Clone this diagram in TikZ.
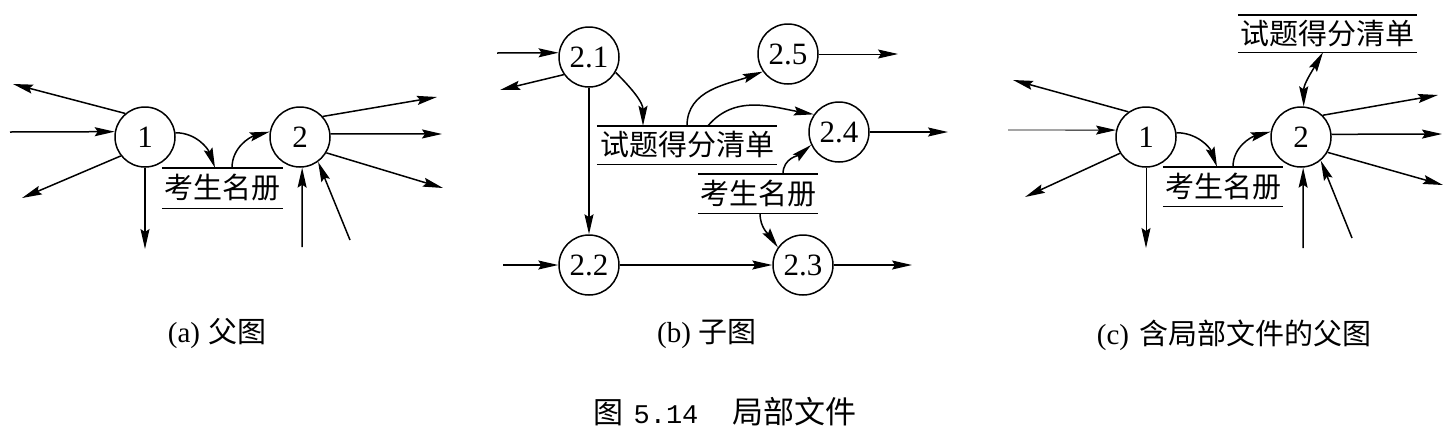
\documentclass[tikz,border=0pt]{standalone}
\usepackage{fontspec}
\setmainfont{Liberation Serif}
\newfontfamily\cjk{Noto Sans CJK SC}
\newfontfamily\monof{Liberation Mono}
\usetikzlibrary{arrows.meta}
\tikzset{
  proc/.style={circle, draw, line width=1.5pt, minimum size=60pt, inner sep=0pt, font=\fontsize{31}{34}\selectfont},
  store/.style={inner sep=0pt, font=\fontsize{29}{34}\selectfont\cjk},
  tipx/.tip={Stealth[length=20pt,width=9pt,inset=3pt]},
  flow/.style={line width=1.5pt, -tipx},
  thinflow/.style={line width=0.9pt, -tipx},
  dflow/.style={line width=1.5pt, tipx-tipx},
  bar/.style={line width=1.4pt},
  caption/.style={font=\fontsize{29}{34}\selectfont}
}
\begin{document}
\begin{tikzpicture}[x=1pt,y=1pt]
\fill[white] (0,0) rectangle (1454,-432);
\useasboundingbox (0,0) rectangle (1454,-432);

% ---------------- (a) ----------------
\node[proc] (n1) at (145,-137) {1};
\node[proc] (n2) at (300,-137) {2};
\node[store, minimum width=121pt, minimum height=40pt] (sa) at (222.5,-188) {考生名册};
\draw[bar] (sa.north west) -- (sa.north east) (sa.south west) -- (sa.south east);
\coordinate (a1) at (13,-84);
\coordinate (a2) at (10,-132);
\coordinate (a3) at (22,-198);
\coordinate (a4) at (145,-249);
\coordinate (a5) at (437,-97);
\coordinate (a6) at (442,-134);
\coordinate (a7) at (443,-188);
\coordinate (a8) at (302,-247);
\coordinate (a9) at (350,-240);
\draw[flow] (n1.130) -- (a1);
\draw[flow] (a2) -- (n1.170);
\draw[flow] (n1.218) -- (a3);
\draw[flow] (n1.270) -- (a4);
\draw[flow] (n1.8) to[out=0,in=110] ([xshift=-7.5pt]sa.north);
\draw[flow] ([xshift=9.5pt]sa.north) to[out=90,in=195] (n2.170);
\draw[flow] (n2.42) -- (a5);
\draw[flow] (n2.6) -- (a6);
\draw[flow] (n2.329) -- (a7);
\draw[flow] (a8) -- (n2.274);
\draw[flow] (a9) -- (n2.306);
\node[caption] (capa) at (217,-334) {(a)\hspace{8pt}{\cjk 父图}};

% ---------------- (b) ----------------
\node[proc] (c21) at (589,-57) {2.1};
\node[proc] (c22) at (589,-265) {2.2};
\node[proc] (c23) at (803,-265) {2.3};
\node[proc] (c24) at (839,-132) {2.4};
\node[proc] (c25) at (788,-54) {2.5};
\node[store, minimum width=180pt, minimum height=38pt] (sb1) at (687,-145) {试题得分清单};
\draw[bar] (sb1.north west) -- (sb1.north east) (sb1.south west) -- (sb1.south east);
\node[store, minimum width=120pt, minimum height=39pt] (sb2) at (758,-193.5) {考生名册};
\draw[bar] (sb2.north west) -- (sb2.north east) (sb2.south west) -- (sb2.south east);
\coordinate (b1) at (497,-53);
\coordinate (b2) at (500,-90);
\coordinate (b3) at (898,-54);
\coordinate (b4) at (948,-132);
\coordinate (b5) at (503,-265);
\coordinate (b6) at (912,-265);
\draw[flow] (b1) -- (c21.172);
\draw[flow] (c21.215) -- (b2);
\draw[flow] (c21.270) -- (c22.90);
\draw[flow] (c21.330) to[out=-45,in=90] ([xshift=-44pt]sb1.north);
\draw[flow] (sb1.north) to[out=90,in=200] (c25.215);
\draw[flow] ([xshift=21pt]sb1.north) to[out=50,in=170] (c24.145);
\draw[thinflow] (c25.0) -- (b3);
\draw[flow] (c24.0) -- (b4);
\draw[flow] ([xshift=25pt]sb2.north) to[out=90,in=220] (c24.205);
\draw[flow] ([xshift=2pt]sb2.south) to[out=270,in=125] (c23.145);
\draw[flow] (b5) -- (c22.180);
\draw[flow] (c22.0) -- (c23.180);
\draw[flow] (c23.0) -- (b6);
\node[caption] (capb) at (707,-334) {(b)\hspace{8pt}{\cjk 子图}};

% ---------------- (c) ----------------
\node[proc] (m1) at (1146,-137) {1};
\node[proc] (m2) at (1301,-137) {2};
\node[store, minimum width=179pt, minimum height=37pt] (sc1) at (1327.5,-33.5) {试题得分清单};
\draw[bar] (sc1.north west) -- (sc1.north east) (sc1.south west) -- (sc1.south east);
\node[store, minimum width=120pt, minimum height=39pt] (sc2) at (1223,-186.5) {考生名册};
\draw[bar] (sc2.north west) -- (sc2.north east) (sc2.south west) -- (sc2.south east);
\coordinate (e1) at (1013,-80);
\coordinate (e2) at (1008,-130);
\coordinate (e3) at (1025,-197);
\coordinate (e4) at (1146,-248);
\coordinate (e5) at (1438,-95);
\coordinate (e6) at (1442,-134);
\coordinate (e7) at (1443,-185);
\coordinate (e8) at (1303,-248);
\coordinate (e9) at (1352,-238);
\draw[flow] (m1.125) -- (e1);
\draw[thinflow] (e2) -- (m1.167);
\draw[flow] (m1.212) -- (e3);
\draw[thinflow] (m1.270) -- (e4);
\draw[flow] (m1.8) to[out=0,in=110] ([xshift=-6pt]sc2.north);
\draw[flow] ([xshift=10pt]sc2.north) to[out=90,in=195] (m2.170);
\draw[dflow] ([xshift=-4.5pt]sc1.south) to[out=240,in=90] (m2.85);
\draw[flow] (m2.45) -- (e5);
\draw[flow] (m2.5) -- (e6);
\draw[flow] (m2.330) -- (e7);
\draw[flow] (e8) -- (m2.274);
\draw[flow] (e9) -- (m2.310);
\node[caption] (capc) at (1234,-335) {(c)\hspace{10pt}{\cjk 含局部文件的父图}};

% ---------------- figure caption ----------------
\node[caption] (fig) at (725,-412) {{\fontsize{30}{34}\selectfont\cjk 图}\hspace{10pt}{\fontsize{27}{34}\selectfont\monof 5.14}\hspace{34pt}{\fontsize{31}{34}\selectfont\cjk 局部文件}};
\end{tikzpicture}
\end{document}
